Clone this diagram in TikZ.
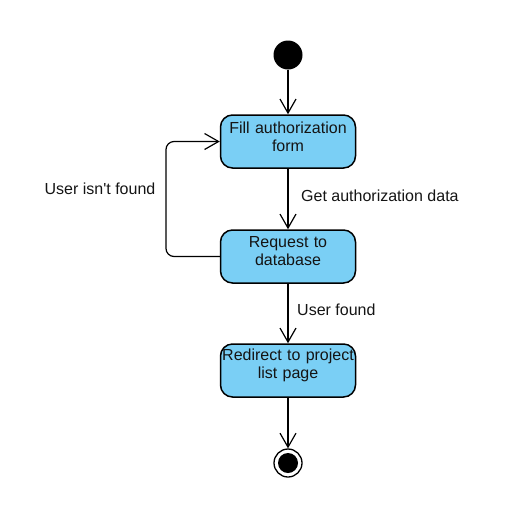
\documentclass[tikz,border=0pt]{standalone}
\usepackage{fontspec}
\setmainfont{Liberation Sans}
\usetikzlibrary{arrows.meta}
\definecolor{boxfill}{RGB}{122,207,245}
\definecolor{txt}{RGB}{20,20,20}
\newcommand{\boxpad}{\endgraf\vspace{10pt}}
\newcommand{\boxlines}[2]{\makebox[134pt][c]{#1}\\\makebox[134pt][c]{#2}}
\begin{document}
\begin{tikzpicture}[x=1pt,y=-1pt,
  every node/.style={font=\fontsize{16}{18}\selectfont, text=txt},
  actbox/.style={draw=black, line width=1.5pt, fill=boxfill, rounded corners=12pt,
     minimum width=135pt, minimum height=53pt, text width=134pt, align=center, inner sep=0pt,
     execute at end node={\boxpad}},
  arr/.style={draw=black, line width=1.2pt, -{Straight Barb[length=14pt,width=16pt,line width=1.2pt]}},
  lbl/.style={anchor=west, inner sep=0pt}]
\useasboundingbox (0,0) rectangle (526,512);
\node[circle, fill=black, minimum size=29pt, inner sep=0pt] (start) at (288,55) {};
\node[actbox] (b1) at (288,141.5) {\boxlines{Fill authorization}{form}};
\node[actbox] (b2) at (288,256.5) {\boxlines{Request to}{database}};
\node[actbox] (b3) at (288,370.5) {\boxlines{Redirect to project}{list page}};
\node[circle, draw=black, line width=1.3pt, fill=white, minimum size=28pt, inner sep=0pt] (end) at (288,463) {};
\node[circle, fill=black, minimum size=20pt, inner sep=0pt] (endin) at (end.center) {};
\draw[arr] (start) -- (b1.north);
\draw[arr] (b1.south) -- (b2.north);
\draw[arr] (b2.south) -- (b3.north);
\draw[arr] (b3.south) -- (end.north);
\coordinate (lx) at (166,0);
\draw[arr, rounded corners=8pt] (b2.west) -- (lx |- b2.west) -- (lx |- b1.west) -- (b1.west);
\node[lbl] (l1) at (301,196) {Get authorization data};
\node[lbl] (l2) at (297,310) {User found};
\node[anchor=center, inner sep=0pt] (l3) at (100,189) {User isn\textquotesingle t found};
\end{tikzpicture}
\end{document}
